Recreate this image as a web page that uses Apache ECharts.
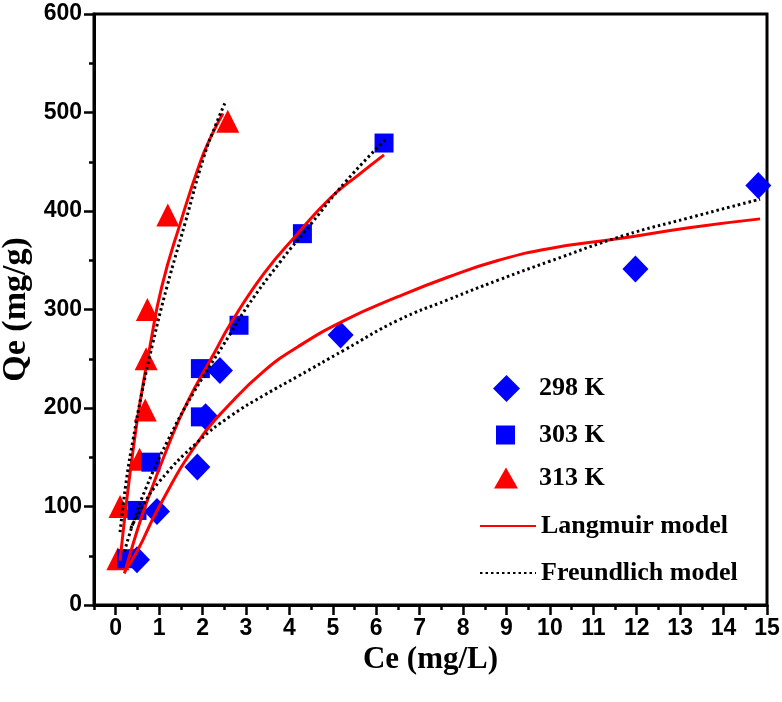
<!DOCTYPE html>
<html>
<head>
<meta charset="utf-8">
<script src="https://cdn.jsdelivr.net/npm/echarts@6/dist/echarts.min.js"></script>
<style>
html,body{margin:0;padding:0;background:#fff;}
#chart{width:782px;height:702px;}
</style>
</head>
<body>
<div id="chart"></div>
<script>
// ---- tick labels ----
const xTickValues = [0,1,2,3,4,5,6,7,8,9,10,11,12,13,14,15];
const xMinorValues = [-0.5,0.5,1.5,2.5,3.5,4.5,5.5,6.5,7.5,8.5,9.5,10.5,11.5,12.5,13.5,14.5];
const yTickValues = [0,100,200,300,400,500,600];

// ---- experimental data (Ce mg/L, Qe mg/g) ----
const ce298 = [0.49, 0.95, 1.88, 2.07, 2.40, 5.18, 11.97, 14.80];
const qe298 = [46, 95, 140, 191, 238, 274, 341, 426];
const ce303 = [0.25, 0.49, 0.81, 1.95, 1.95, 2.84, 4.30, 6.18];
const qe303 = [47, 96, 145, 191, 240, 284, 377, 469];
const ce313 = [0.05, 0.10, 0.55, 0.68, 0.70, 0.73, 1.20, 2.58];
const qe313 = [47, 100, 148, 198, 250, 300, 396, 491];

// ---- Langmuir model curves ----
const lang298C = [0.22, 0.5, 0.99, 1.9, 2.65, 3.4, 4.19, 5.27, 6.5, 7.66, 8.82, 10.0, 11.6, 13.2, 14.84];
const lang298Q = [35, 55, 99, 166, 205, 237, 262, 289, 313, 333, 350, 362, 372, 383, 392];
const lang303C = [0.2, 0.4, 0.68, 1.22, 1.64, 2.26, 2.65, 3.42, 4.19, 4.96, 5.6, 6.18];
const lang303Q = [32, 62, 100, 163, 205, 255, 286, 337, 377, 414, 437, 457];
const lang313C = [0.1, 0.25, 0.37, 0.55, 0.79, 1.06, 1.49, 1.95, 2.2, 2.47];
const lang313Q = [45, 105, 147, 203, 263, 323, 388, 450, 476, 499];

// ---- Freundlich model curves ----
const freu298C = [0.35, 0.6, 1.0, 1.9, 2.65, 3.42, 4.19, 5.27, 6.5, 7.66, 8.82, 10.0, 11.7, 13.2, 14.84];
const freu298Q = [78, 99, 125, 166, 192, 213, 232, 259, 289, 310, 330, 349, 375, 393, 412];
const freu303C = [0.2, 0.4, 0.7, 1.2, 1.8, 2.65, 3.03, 3.8, 4.5, 5.3, 6.22];
const freu303Q = [54, 83, 119, 167, 216, 276, 303, 349, 387, 430, 473];
const freu313C = [0.1, 0.25, 0.4, 0.6, 0.85, 1.18, 1.6, 2.03, 2.3, 2.53];
const freu313Q = [74, 128, 168, 215, 265, 323, 388, 455, 487, 511];

const zip = (a, b) => a.map((v, i) => [v, b[i]]);

const BLUE = '#0000ff', RED = '#ff0000';
const serif = '"Liberation Serif", "DejaVu Serif", serif';
const sans = '"Liberation Sans", Arial, sans-serif';

const chart = echarts.init(document.getElementById('chart'));

function legendItem(name, left, top, w, h, textPad, hideSymbol) {
  const l = {
    data: [name], orient: 'vertical', left: left, top: top,
    itemWidth: w, itemHeight: h, padding: 0, selectedMode: false,
    textStyle: { fontFamily: serif, fontWeight: 'bold', fontSize: 26, color: '#000', padding: [0, 0, 0, textPad] }
  };
  if (hideSymbol) l.itemStyle = { opacity: 0, borderWidth: 0 };
  return l;
}

const langStyle = { color: RED, width: 3, type: 'solid' };
const freuStyle = { color: '#000', width: 3, type: [2.5, 3] };

chart.setOption({
  animation: false,
  backgroundColor: '#fff',
  grid: { left: 94, right: 15, top: 14, bottom: 97, show: true, borderColor: '#000', borderWidth: 3, outerBoundsMode: 'none' },
  legend: [
    legendItem('298 K', 493, 375, 27, 27, 14, false),
    legendItem('303 K', 496, 422, 19, 19, 19, false),
    legendItem('313 K', 494, 465, 24, 21, 16, false),
    legendItem('Langmuir model', 479, 513, 56, 14, 0, true),
    legendItem('Freundlich model', 479, 560, 56, 14, 0, true)
  ],
  xAxis: [
    {
      type: 'value', min: -0.5, max: 15, interval: 0.5,
      name: 'Ce (mg/L)', nameLocation: 'middle', nameGap: 38,
      nameTextStyle: { fontFamily: serif, fontWeight: 'bold', fontSize: 31, color: '#000' },
      axisLine: { show: true, onZero: false, lineStyle: { color: '#000', width: 3 } },
      axisTick: { show: true, length: 5, customValues: xMinorValues, lineStyle: { color: '#000', width: 2.5 } },
      axisLabel: { customValues: xTickValues, fontFamily: sans, fontWeight: 'bold', fontSize: 23, color: '#000', margin: 12,
        formatter: v => (Math.abs(v - Math.round(v)) < 1e-6 ? String(Math.round(v)) : '') },
      splitLine: { show: false }
    },
    {
      type: 'value', min: -0.5, max: 15, interval: 0.5, position: 'bottom',
      axisLine: { show: false, onZero: false },
      axisTick: { show: true, length: 10, customValues: xTickValues, lineStyle: { color: '#000', width: 2.5 } },
      axisLabel: { show: false },
      splitLine: { show: false }
    }
  ],
  yAxis: {
    type: 'value', min: 0, max: 600, interval: 100,
    name: 'Qe (mg/g)', nameLocation: 'middle', nameGap: 58,
    nameTextStyle: { fontFamily: serif, fontWeight: 'bold', fontSize: 34, color: '#000' },
    axisLine: { show: true, onZero: false, lineStyle: { color: '#000', width: 3 } },
    axisTick: { show: true, length: 10, lineStyle: { color: '#000', width: 2.5 } },
    minorTick: { show: true, splitNumber: 2, length: 5, lineStyle: { color: '#000', width: 2.5 } },
    axisLabel: { fontFamily: sans, fontWeight: 'bold', fontSize: 23, color: '#000', margin: 12 },
    splitLine: { show: false }
  },
  series: [
    { name: '313 K', type: 'scatter', symbol: 'triangle', symbolSize: 23, itemStyle: { color: RED, opacity: 1 }, data: zip(ce313, qe313), z: 2 },
    { name: '303 K', type: 'scatter', symbol: 'rect', symbolSize: 19, itemStyle: { color: BLUE, opacity: 1 }, data: zip(ce303, qe303), z: 2 },
    { name: '298 K', type: 'scatter', symbol: 'diamond', symbolSize: [26, 27], itemStyle: { color: BLUE, opacity: 1 }, data: zip(ce298, qe298), z: 2 },
    { name: 'Langmuir model', type: 'line', smooth: true, symbol: 'none', lineStyle: langStyle, itemStyle: { color: RED }, data: zip(lang298C, lang298Q), z: 4 },
    { name: 'Langmuir model', type: 'line', smooth: true, symbol: 'none', lineStyle: langStyle, itemStyle: { color: RED }, data: zip(lang303C, lang303Q), z: 4 },
    { name: 'Langmuir model', type: 'line', smooth: true, symbol: 'none', lineStyle: langStyle, itemStyle: { color: RED }, data: zip(lang313C, lang313Q), z: 4 },
    { name: 'Freundlich model', type: 'line', smooth: true, symbol: 'none', lineStyle: freuStyle, itemStyle: { color: '#000' }, data: zip(freu298C, freu298Q), z: 5 },
    { name: 'Freundlich model', type: 'line', smooth: true, symbol: 'none', lineStyle: freuStyle, itemStyle: { color: '#000' }, data: zip(freu303C, freu303Q), z: 5 },
    { name: 'Freundlich model', type: 'line', smooth: true, symbol: 'none', lineStyle: freuStyle, itemStyle: { color: '#000' }, data: zip(freu313C, freu313Q), z: 5 }
  ]
});
</script>
</body>
</html>
